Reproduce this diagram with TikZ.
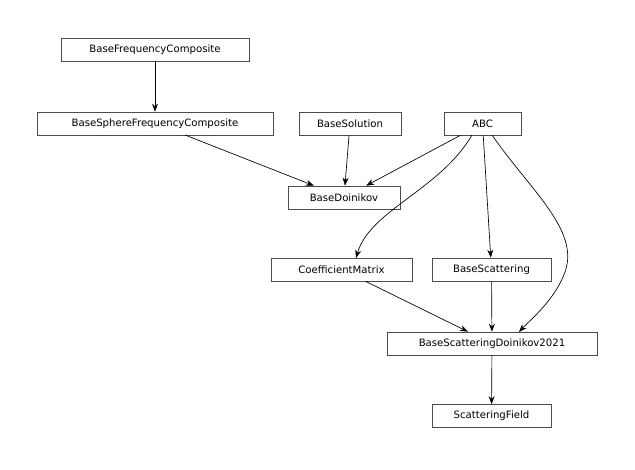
\documentclass[tikz,border=0pt]{standalone}
\usepackage{fontspec}
\setmainfont{DejaVu Sans}
\usetikzlibrary{arrows.meta}

\tikzset{
  cls/.style={draw=black!70, fill=white, font=\fontsize{7.6}{9}\selectfont, minimum height=17.25pt, inner xsep=5pt, line width=0.5pt},
  inh/.style={-{Stealth[length=6pt,width=4.5pt]}, line width=0.5pt}
}

\begin{document}
\begin{tikzpicture}[x=0.75pt,y=0.75pt,yscale=-1,xscale=1]
\useasboundingbox (0,0) rectangle (635,469);

% classes
\node[cls, minimum width=141pt] (bfc) at (155,49.5) {BaseFrequencyComposite};
\node[cls, minimum width=177pt] (bsfc) at (155,123.5) {BaseSphereFrequencyComposite};
\node[cls, minimum width=76.5pt] (bsol) at (350,123.5) {BaseSolution};
\node[cls, minimum width=57.75pt] (abc) at (482.5,123.5) {ABC};
\node[cls, minimum width=84pt] (bdoi) at (344,197.5) {BaseDoinikov};
\node[cls, minimum width=105.75pt] (coef) at (341.5,269.5) {CoefficientMatrix};
\node[cls, minimum width=89.25pt] (bscat) at (491.5,269.5) {BaseScattering};
\node[cls, minimum width=157.5pt] (bsd) at (492,343.5) {BaseScatteringDoinikov2021};
\node[cls, minimum width=89.25pt] (sfield) at (491.5,416) {ScatteringField};

% inheritance
\draw[inh] (bfc) -- (bsfc);
\draw[inh] (bsfc.south east) ++(-88,0) coordinate (c1) (185,135) -- (bdoi);
\draw[inh] (bsol) -- (bdoi);
\draw[inh] (abc) -- (bdoi);
\draw[inh] (472,135) .. controls (440,190) and (370,210) .. (356,258);
\draw[inh] (abc) -- (bscat);
\draw[inh] (492,135) .. controls (530,190) and (580,230) .. (565,272) .. controls (555,300) and (530,320) .. (519,332);
\draw[inh] (coef) -- (bsd);
\draw[inh] (bscat) -- (bsd);
\draw[inh] (bsd) -- (sfield);
\end{tikzpicture}
\end{document}
